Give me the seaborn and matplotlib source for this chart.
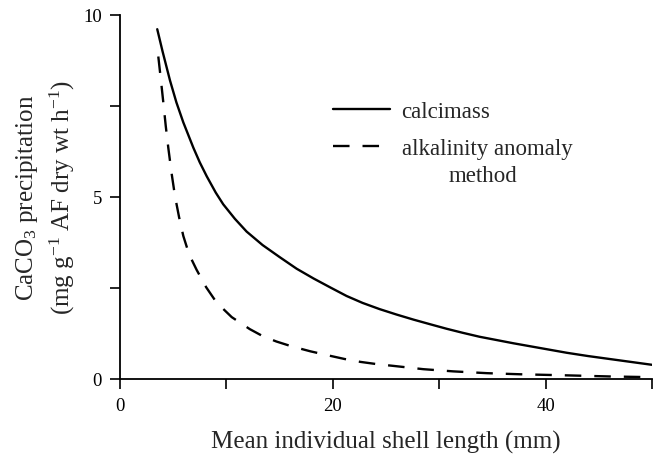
import numpy as np
import pandas as pd
import matplotlib
matplotlib.use("Agg")
import matplotlib.pyplot as plt
import seaborn as sns

# values
calci_len = [3.5, 4.0, 4.7, 5.3, 5.95, 6.9, 7.5, 8.15, 9.0, 9.7, 10.8, 11.9,
             13.4, 15.0, 16.6, 18.2, 19.8, 21.3, 22.8, 24.4, 26.0, 27.6, 29.2,
             30.7, 32.2, 33.8, 35.4, 37.0, 39.5, 42.0, 44.0, 46.0, 48.0, 50.0]
calci_rate = [9.61, 9.00, 8.20, 7.60, 7.05, 6.35, 5.95, 5.57, 5.12, 4.80, 4.40,
              4.05, 3.68, 3.35, 3.03, 2.76, 2.51, 2.28, 2.09, 1.92, 1.77, 1.63,
              1.50, 1.38, 1.27, 1.16, 1.07, 0.98, 0.85, 0.72, 0.63, 0.55, 0.47,
              0.39]

alk_len = [3.6, 3.85, 4.07, 4.3, 4.54, 4.85, 5.17, 5.55, 5.95, 6.5, 7.2, 8.1,
           9.08, 10.5, 12.2, 13.4, 14.7, 16.1, 17.9, 19.7, 21.1, 22.6, 24.1,
           25.7, 28.5, 31.3, 34.5, 37.6, 42.0, 46.0, 50.0]
alk_rate = [8.86, 8.20, 7.60, 6.95, 6.35, 5.65, 5.02, 4.45, 3.93, 3.42, 3.00,
            2.52, 2.10, 1.70, 1.37, 1.18, 1.03, 0.90, 0.76, 0.64, 0.55, 0.47,
            0.41, 0.36, 0.27, 0.21, 0.16, 0.13, 0.10, 0.07, 0.05]

series_names = ["calcimass", "alkalinity anomaly"]
x_ticks = [0, 10, 20, 30, 40, 50]
x_ticklabels = ["0", "", "20", "", "40", ""]
y_ticks = [0, 2.5, 5, 7.5, 10]
y_ticklabels = ["0", "", "5", "", "10"]

df = pd.concat([
    pd.DataFrame({"length": calci_len, "rate": calci_rate, "method": series_names[0]}),
    pd.DataFrame({"length": alk_len, "rate": alk_rate, "method": series_names[1]}),
])

sns.set_style("ticks")
plt.rcParams["font.family"] = ["Liberation Serif", "DejaVu Serif"]
plt.rcParams["mathtext.fontset"] = "custom"
plt.rcParams["mathtext.rm"] = "Liberation Serif"
plt.rcParams["mathtext.default"] = "regular"

fig = plt.figure(figsize=(6.54, 4.56), dpi=100)
ax = fig.add_axes([120 / 654, 76 / 456, 532 / 654, 364 / 456])

sns.lineplot(data=df, x="length", y="rate", style="method", color="black",
             dashes={series_names[0]: "", series_names[1]: (7.0, 5.5)},
             linewidth=1.7, sort=False, ax=ax)

ax.set_xlim(0, 50)
ax.set_ylim(0, 10)
ax.set_xticks(x_ticks)
ax.set_xticklabels(x_ticklabels)
ax.set_yticks(y_ticks)
ax.set_yticklabels(y_ticklabels)
ax.tick_params(direction="out", length=7, width=1.2, colors="black",
               labelsize=13.5, pad=6)
sns.despine(ax=ax)
for s in ["left", "bottom"]:
    ax.spines[s].set_linewidth(1.3)
    ax.spines[s].set_color("black")

ax.set_xlabel("Mean individual shell length (mm)", fontsize=18)
ax.xaxis.set_label_coords(0.5, -0.172)
ax.xaxis.label.set_va("center")

ax.set_ylabel("CaCO$_3$ precipitation\n(mg g$^{-1}$ AF dry wt h$^{-1}$)",
              fontsize=18, linespacing=1.35)
ax.yaxis.label.set_va("center")
ax.yaxis.set_label_coords(-0.14, 0.5)

handles, labels = ax.get_legend_handles_labels()
ax.legend(handles, labels, loc="upper left", bbox_to_anchor=(0.40, 0.765),
          frameon=False, fontsize=16.5, handlelength=2.5, handletextpad=0.5,
          labelspacing=0.72, borderpad=0, borderaxespad=0)
ax.text(0.682, 0.558, "method", transform=ax.transAxes, fontsize=16.5,
        ha="center", va="center")

fig.savefig("out.png", dpi=100)
